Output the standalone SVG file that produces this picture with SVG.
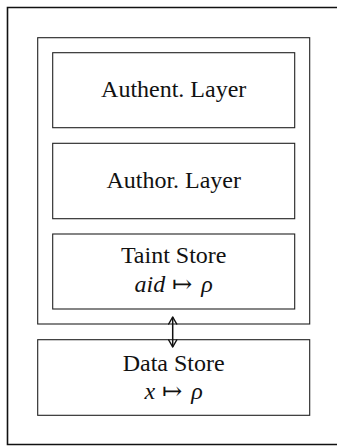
<svg xmlns="http://www.w3.org/2000/svg" width="337" height="446" viewBox="0 0 337 446">
<defs>
<style>
.box{fill:none;stroke:#222;stroke-width:1.1}
.t{font-family:"Liberation Serif","DejaVu Serif",serif;font-size:24px;fill:#111;text-anchor:middle}
.m{font-style:italic}
.conn{fill:none;stroke:#111;stroke-width:1.5}
</style>
<marker id="ah" viewBox="0 0 10 10" refX="8" refY="5" markerWidth="10" markerHeight="10" markerUnits="userSpaceOnUse" orient="auto-start-reverse">
<path d="M1,1 L8,5 L1,9" fill="none" stroke="#111" stroke-width="1.5" stroke-linecap="round" stroke-linejoin="round"/>
</marker>
</defs>
<rect width="337" height="446" fill="#fff"/>
<path d="M340 7.5 H7.5 V444.5 H340" fill="none" stroke="#111" stroke-width="1.6"/>
<g id="container"><rect class="box" x="37.7" y="37.7" width="272" height="286.3"/></g>
<g id="authent"><rect class="box" x="52.7" y="52.7" width="242" height="75"/><text class="t" x="173.7" y="96.7">Authent. Layer</text></g>
<g id="author"><rect class="box" x="52.7" y="143.3" width="242" height="75.4"/><text class="t" x="173.7" y="187.7">Author. Layer</text></g>
<g id="taint"><rect class="box" x="52.7" y="234" width="242" height="75"/><text class="t" x="173.7" y="263.3">Taint Store</text><text class="t" x="173.7" y="291.5"><tspan class="m">aid</tspan><tspan dx="7">↦</tspan><tspan dx="9" class="m">ρ</tspan></text></g>
<g id="data"><rect class="box" x="37.7" y="339.7" width="272" height="75.6"/><text class="t" x="173.7" y="371">Data Store</text><text class="t" x="173.7" y="399"><tspan class="m">x</tspan><tspan dx="7">↦</tspan><tspan dx="9" class="m">ρ</tspan></text></g>
<g id="connectors"><line class="conn" x1="172.7" y1="317" x2="172.7" y2="347" marker-start="url(#ah)" marker-end="url(#ah)"/></g>
</svg>
